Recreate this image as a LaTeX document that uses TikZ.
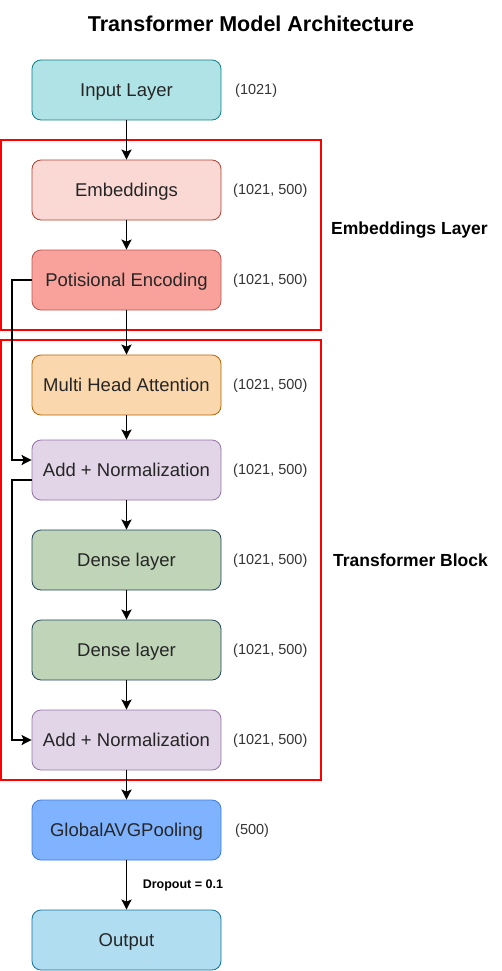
\documentclass[tikz,border=0pt]{standalone}
\usepackage{fontspec}
\setmainfont{Liberation Sans}
\usepackage{tikz}
\usetikzlibrary{arrows.meta}

\definecolor{inputfill}{HTML}{B0E3E6}
\definecolor{inputline}{HTML}{0E8088}
\definecolor{embfill}{HTML}{FAD9D5}
\definecolor{embline}{HTML}{AE4132}
\definecolor{posfill}{HTML}{F8A29B}
\definecolor{posline}{HTML}{B85450}
\definecolor{mhafill}{HTML}{FAD7AC}
\definecolor{mhaline}{HTML}{B46504}
\definecolor{addfill}{HTML}{E1D5E7}
\definecolor{addline}{HTML}{9673A6}
\definecolor{densefill}{HTML}{C0D5B8}
\definecolor{denseline}{HTML}{23445D}
\definecolor{poolfill}{HTML}{7FB3FF}
\definecolor{poolline}{HTML}{3A7BE0}
\definecolor{outfill}{HTML}{B1DDF0}
\definecolor{outline}{HTML}{10739E}
\definecolor{framered}{HTML}{FF0000}

\tikzset{
    layer/.style={draw, rounded corners=9pt, minimum width=189pt, minimum height=60pt,
        inner sep=0pt, line width=0.8pt, text=black!85, text height=15pt, text depth=2.5pt,
        font=\fontsize{18.5}{22}\selectfont},
    shape label/.style={anchor=west, inner sep=0pt, text=black!80, font=\fontsize{14.5}{17}\selectfont},
    group label/.style={anchor=west, inner sep=0pt, font=\fontsize{17.5}{21}\selectfont\bfseries},
    frame/.style={draw=framered, line width=1.6pt},
    flow/.style={-{Stealth[length=10pt, width=10pt, inset=2pt]}, line width=1.9pt}
}

\begin{document}
\begin{tikzpicture}[x=1pt, y=-1pt]
    \useasboundingbox (0,0) rectangle (501,971);
    % Title
    \node (title) at (251,24) {\fontsize{21.5}{25}\selectfont\bfseries Transformer Model Architecture};

    % Frames
    \draw[frame] (1,140) rectangle (321,330);
    \draw[frame] (1,340) rectangle (321,780);

    % Nodes
    \node[layer, fill=inputfill, draw=inputline] (input) at (126.5,90) {Input Layer};
    \node[layer, fill=embfill, draw=embline] (embed) at (126.5,190) {Embeddings};
    \node[layer, fill=posfill, draw=posline] (posenc) at (126.5,280) {Potisional Encoding};
    \node[layer, fill=mhafill, draw=mhaline] (mha) at (126.5,385) {Multi Head Attention};
    \node[layer, fill=addfill, draw=addline] (addnorm1) at (126.5,470) {Add + Normalization};
    \node[layer, fill=densefill, draw=denseline] (dense1) at (126.5,560) {Dense layer};
    \node[layer, fill=densefill, draw=denseline] (dense2) at (126.5,650) {Dense layer};
    \node[layer, fill=addfill, draw=addline] (addnorm2) at (126.5,740) {Add + Normalization};
    \node[layer, fill=poolfill, draw=poolline] (pool) at (126.5,830) {GlobalAVGPooling};
    \node[layer, fill=outfill, draw=outline] (output) at (126.5,940) {Output};

    % Shapes
    \node[shape label] (inputdim) at (235,91) {(1021)};
    \node[shape label] (embeddim) at (233,191) {(1021, 500)};
    \node[shape label] (posencdim) at (233,281) {(1021, 500)};
    \node[shape label] (mhadim) at (233,386) {(1021, 500)};
    \node[shape label] (addnormdimA) at (233,471) {(1021, 500)};
    \node[shape label] (densedimA) at (233,561) {(1021, 500)};
    \node[shape label] (densedimB) at (233,651) {(1021, 500)};
    \node[shape label] (addnormdimB) at (233,741) {(1021, 500)};
    \node[shape label] (pooldim) at (235,831) {(500)};

    % Groups
    \node[group label] (emblayer) at (331,230) {Embeddings Layer};
    \node[group label] (transblock) at (333,560) {Transformer Block};

    % Arrows
    \draw[flow] (input) -- (embed);
    \draw[flow] (embed) -- (posenc);
    \draw[flow] (posenc) -- (mha);
    \draw[flow] (mha) -- (addnorm1);
    \draw[flow] (addnorm1) -- (dense1);
    \draw[flow] (dense1) -- (dense2);
    \draw[flow] (dense2) -- (addnorm2);
    \draw[flow] (addnorm2) -- (pool);
    \draw[flow] (pool) -- node[right, xshift=12pt, font=\fontsize{12.5}{15}\selectfont\bfseries] {Dropout = 0.1} (output);

    % Skip connections
    \draw[flow] (posenc.west) -- ++(-20,0) |- ([yshift=10pt]addnorm1.west);
    \draw[flow] ([yshift=-10pt]addnorm1.west) -- ++(-20,0) |- (addnorm2.west);
\end{tikzpicture}
\end{document}
